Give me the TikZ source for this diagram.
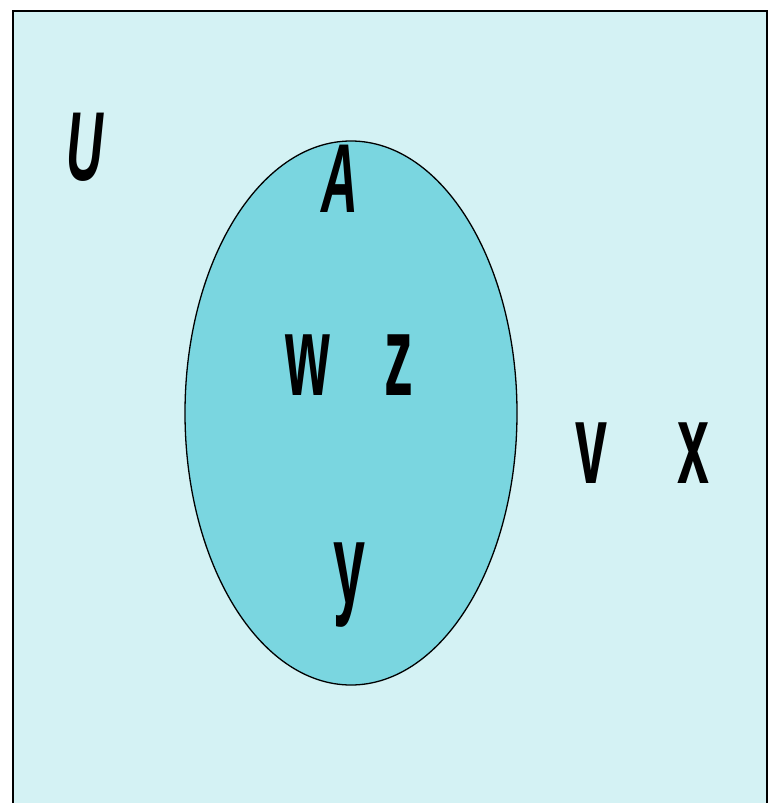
\documentclass[tikz,border=0pt]{standalone}
\usepackage{fontspec}
\setmainfont{Liberation Sans}
\definecolor{bgcyan}{RGB}{212,242,244}
\definecolor{ellcyan}{RGB}{122,214,224}
\newcommand{\lowlbl}[1]{\scalebox{0.5}[1]{\bfseries\fontsize{115}{115}\selectfont #1}}
\newcommand{\caplbl}[1]{\scalebox{0.52}[1]{\bfseries\itshape\fontsize{98}{98}\selectfont #1}}
\begin{document}
\begin{tikzpicture}[x=1pt,y=-1pt,
  lbl/.style={inner sep=0pt, outer sep=0pt, anchor=base, text=black}]
\useasboundingbox (0,0) rectangle (773,803);
\begin{scope}
\clip (0,0) rectangle (773,803);
\draw[fill=bgcyan, line width=2pt] (13,11) rectangle (767,830);
\end{scope}
\draw[fill=ellcyan, line width=1.3pt] (351,413) ellipse [x radius=166, y radius=272];
\node[lbl] (U) at (85,180) {\caplbl{U}};
\node[lbl] (A) at (340,212) {\caplbl{A}};
\node[lbl] (w) at (308,395) {\lowlbl{w}};
\node[lbl] (z) at (399,395) {\lowlbl{z}};
\node[lbl] (y) at (349,603) {\lowlbl{y}};
\node[lbl] (v) at (591,483) {\lowlbl{v}};
\node[lbl] (x) at (693,483) {\lowlbl{x}};
\end{tikzpicture}
\end{document}
